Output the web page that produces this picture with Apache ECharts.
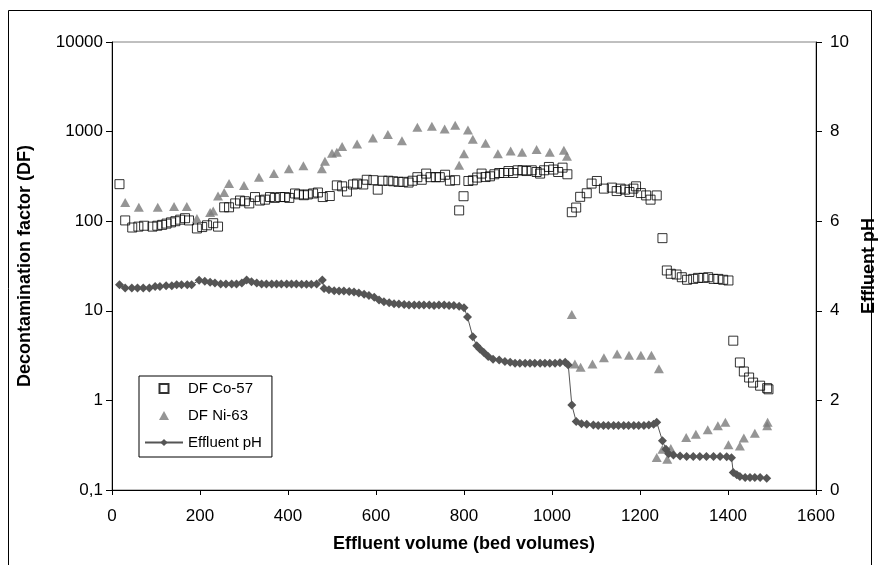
<!DOCTYPE html>
<html><head><meta charset="utf-8">
<script src="https://cdn.jsdelivr.net/npm/echarts@6/dist/echarts.min.js"></script>
<style>html,body{margin:0;padding:0;background:#fff}#c{width:879px;height:565px}</style>
</head><body><div id="c"></div>
<script>
// Effluent volume (bed volumes) and DF for Co-57
const coX = [17,30,46,60,73,92,103,114,124,134,144,155,166,175,193,205,216,230,241,255,266,280,291,302,312,325,336,348,359,370,382,393,403,416,425,436,445,457,468,479,495,511,523,534,548,557,571,579,594,604,615,628,639,651,662,674,683,694,704,714,724,736,745,757,768,780,789,799,810,820,830,840,849,859,869,880,891,901,912,922,933,942,954,965,973,982,993,1003,1014,1024,1035,1045,1055,1064,1079,1090,1102,1118,1136,1147,1156,1166,1176,1185,1191,1202,1214,1224,1238,1251,1261,1270,1283,1295,1307,1321,1332,1344,1355,1367,1378,1389,1401,1412,1427,1436,1448,1457,1473,1489,1492];
const coDF = [259,102,85,87,89,87,89,91,94,97,100,104,108,102,83,86,90,95,87,143,143,158,170,167,158,186,170,174,186,182,186,186,182,204,199,195,199,204,209,186,191,251,245,214,257,263,257,290,287,225,283,283,279,275,275,270,283,310,290,340,310,310,310,330,283,287,132,190,281,286,307,340,311,317,334,345,345,363,345,370,370,363,370,354,340,370,403,377,354,396,334,126,142,187,205,263,281,231,237,217,231,225,212,231,245,206,194,174,194,64.7,28.2,25.9,25.4,23.7,22.2,22.7,23.3,23.3,23.7,22.7,22.7,22.2,21.8,4.64,2.65,2.10,1.80,1.58,1.46,1.37,1.33];

// DF for Ni-63
const niX = [30,61,104,141,170,193,223,230,241,255,266,300,334,368,402,435,477,484,500,511,523,557,593,627,659,694,727,756,780,789,800,809,820,849,877,906,932,965,995,1027,1034,1045,1052,1065,1092,1118,1148,1175,1202,1226,1243,1238,1251,1262,1270,1305,1327,1354,1377,1394,1401,1427,1436,1461,1489,1490];
const niDF = [162,143,143,146,146,107,125,130,191,209,263,251,309,340,386,417,386,466,575,590,680,725,850,930,790,1120,1150,1070,1180,420,565,1040,820,740,565,607,590,630,590,620,530,9.1,2.55,2.35,2.55,3.0,3.3,3.2,3.2,3.2,2.25,0.23,0.285,0.22,0.29,0.385,0.42,0.47,0.52,0.57,0.32,0.31,0.38,0.43,0.52,0.57];

// Effluent pH
const phX = [17,30,45,58,71,85,98,109,123,136,147,158,171,181,198,211,223,234,247,259,272,283,295,306,317,329,340,351,363,374,385,397,408,419,431,442,453,465,478,482,493,505,516,527,539,550,561,573,584,596,607,618,630,641,652,664,675,687,698,709,721,732,743,755,766,777,789,800,808,820,829,836,845,855,866,880,893,905,916,927,939,950,961,973,984,995,1007,1018,1030,1037,1045,1055,1067,1079,1094,1105,1117,1128,1140,1151,1163,1174,1186,1197,1209,1220,1231,1238,1251,1259,1265,1276,1291,1306,1321,1336,1351,1367,1382,1397,1408,1412,1420,1427,1439,1450,1461,1473,1488];
const phV = [4.58,4.51,4.51,4.51,4.51,4.51,4.54,4.54,4.56,4.56,4.58,4.58,4.58,4.58,4.68,4.66,4.64,4.62,4.60,4.60,4.60,4.60,4.62,4.69,4.65,4.62,4.60,4.60,4.60,4.60,4.60,4.60,4.60,4.60,4.59,4.59,4.59,4.60,4.69,4.50,4.47,4.45,4.44,4.44,4.43,4.42,4.40,4.37,4.34,4.30,4.24,4.20,4.18,4.16,4.15,4.14,4.13,4.13,4.13,4.13,4.13,4.12,4.13,4.13,4.12,4.12,4.10,4.07,3.86,3.42,3.22,3.15,3.07,2.98,2.92,2.90,2.87,2.85,2.83,2.83,2.83,2.83,2.83,2.83,2.83,2.83,2.83,2.84,2.85,2.79,1.90,1.53,1.48,1.47,1.45,1.44,1.44,1.44,1.44,1.44,1.44,1.44,1.44,1.44,1.44,1.45,1.47,1.51,1.10,0.91,0.81,0.78,0.76,0.745,0.745,0.745,0.745,0.745,0.745,0.74,0.72,0.39,0.34,0.30,0.28,0.28,0.28,0.28,0.26];

const xTicks = [0, 1600, 200];
const leftTicks = [0.1, 10000];
const rightTicks = [0, 10, 2];

const zip = (a, b) => a.map((v, i) => [v, b[i]]);
const font = 'Liberation Sans, Arial, sans-serif';
const chart = echarts.init(document.getElementById('c'), null, {renderer: 'canvas'});
chart.setOption({
  animation: false,
  backgroundColor: '#fff',
  graphic: [{type: 'rect', silent: true, z: -10,
    shape: {x: 8.5, y: 10.5, width: 863, height: 600},
    style: {fill: 'none', stroke: '#000', lineWidth: 1}}],
  grid: {left: 112, right: 63, top: 42, bottom: 75, show: true, borderColor: '#808080', borderWidth: 1, outerBoundsMode: 'none'},
  legend: {
    orient: 'vertical', left: 139, top: 376,
    padding: [5, 10, 7, 5], itemGap: 12, itemWidth: 38, itemHeight: 9,
    symbolKeepAspect: true,
    borderColor: '#000', borderWidth: 1, borderRadius: 0,
    textStyle: {fontFamily: font, fontSize: 15, color: '#000'},
    data: [
      {name: 'DF Co-57', icon: 'path://M0,0L10,0L10,10L0,10Z'},
      {name: 'DF Ni-63', icon: 'path://M5,0L10,9L0,9Z'},
      {name: 'Effluent pH'}
    ]
  },
  xAxis: {
    type: 'value', min: xTicks[0], max: xTicks[1], interval: xTicks[2],
    name: 'Effluent volume (bed volumes)', nameLocation: 'middle', nameGap: 45,
    nameTextStyle: {fontFamily: font, fontSize: 18, fontWeight: 'bold', color: '#000'},
    axisLine: {show: true, onZero: false, lineStyle: {color: '#000', width: 1}},
    axisTick: {show: true, length: 5, lineStyle: {color: '#000'}},
    axisLabel: {fontFamily: font, fontSize: 17, color: '#000', margin: 18, formatter: v => String(v)},
    splitLine: {show: false}
  },
  yAxis: [{
    type: 'log', logBase: 10, min: leftTicks[0], max: leftTicks[1], position: 'left',
    name: 'Decontamination factor (DF)', nameLocation: 'middle', nameRotate: 90, nameGap: 78,
    nameTextStyle: {fontFamily: font, fontSize: 18, fontWeight: 'bold', color: '#000'},
    axisLine: {show: true, onZero: false, lineStyle: {color: '#000', width: 1}},
    axisTick: {show: true, length: 6, lineStyle: {color: '#000'}},
    minorTick: {show: false},
    axisLabel: {fontFamily: font, fontSize: 17, color: '#000', margin: 9,
      formatter: v => v < 1 ? '0,1' : String(Math.round(v))},
    splitLine: {show: false}
  }, {
    type: 'value', min: rightTicks[0], max: rightTicks[1], interval: rightTicks[2], position: 'right',
    name: 'Effluent pH', nameLocation: 'middle', nameRotate: 90, nameGap: 39,
    nameTextStyle: {fontFamily: font, fontSize: 18, fontWeight: 'bold', color: '#000'},
    axisLine: {show: true, onZero: false, lineStyle: {color: '#000', width: 1}},
    axisTick: {show: true, length: 6, lineStyle: {color: '#000'}},
    axisLabel: {fontFamily: font, fontSize: 17, color: '#000', margin: 14},
    splitLine: {show: false}
  }],
  series: [{
    name: 'DF Co-57', type: 'scatter', yAxisIndex: 0, symbol: 'rect', symbolSize: 9,
    itemStyle: {color: 'rgba(255,255,255,0)', borderColor: '#000', borderWidth: 1},
    data: zip(coX, coDF)
  }, {
    name: 'DF Ni-63', type: 'scatter', yAxisIndex: 0, symbol: 'triangle', symbolSize: [10, 9],
    itemStyle: {color: '#7a7a7a'},
    data: zip(niX, niDF)
  }, {
    name: 'Effluent pH', type: 'line', yAxisIndex: 1, symbol: 'diamond', symbolSize: 9,
    showAllSymbol: true,
    lineStyle: {color: '#555', width: 1},
    itemStyle: {color: '#555'},
    data: zip(phX, phV)
  }]
});
</script></body></html>
